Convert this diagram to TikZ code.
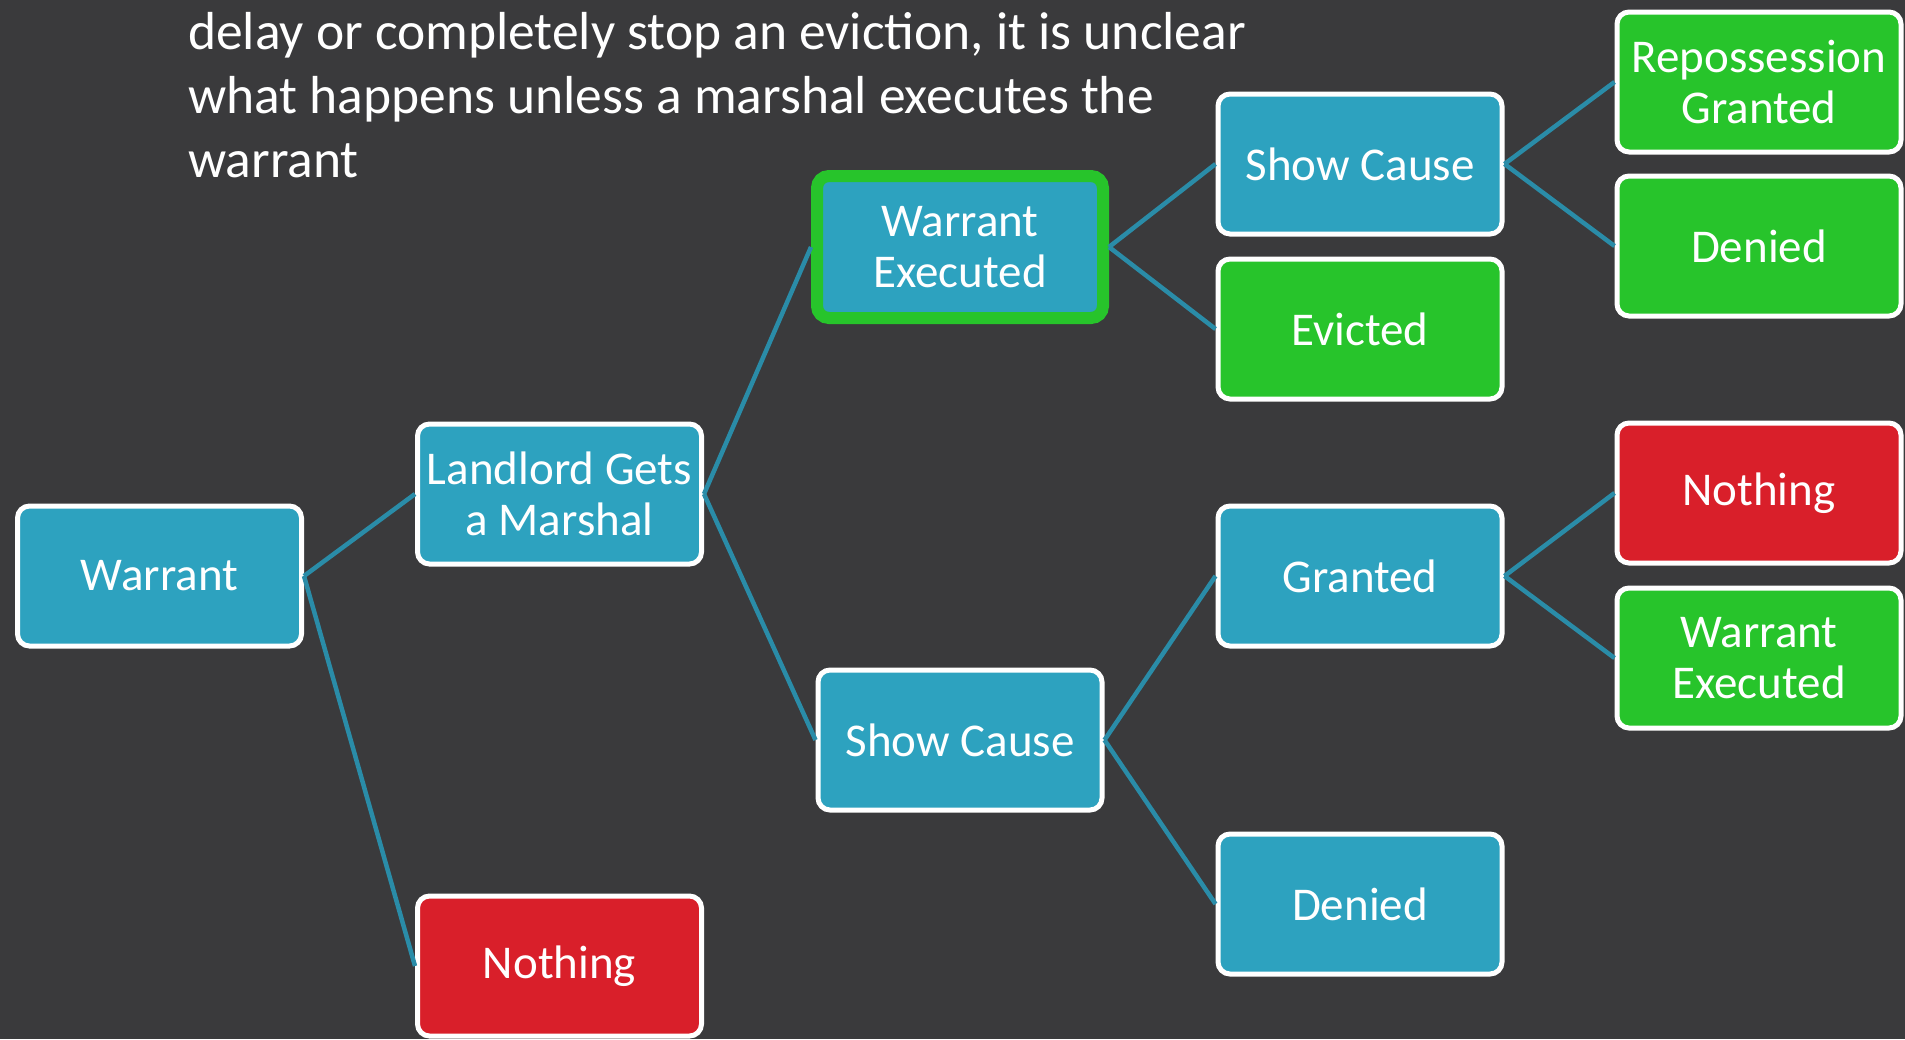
\documentclass[tikz,border=0pt]{standalone}
\usepackage{fontspec}
\setmainfont{Carlito}
\definecolor{bg}{HTML}{3A3A3C}
\definecolor{boxblue}{HTML}{2DA2BF}
\definecolor{linkblue}{HTML}{2A8CA8}
\definecolor{boxgreen}{HTML}{27C42B}
\definecolor{boxred}{HTML}{D91F2A}
\begin{document}
\begin{tikzpicture}[x=1pt,y=-1pt,
  box/.style={draw=white, line width=5pt, rounded corners=12pt, minimum width=284pt, minimum height=140pt,
    text=white, align=center, inner sep=0pt, font=\fontsize{47}{51}\selectfont},
  bluebox/.style={box, fill=boxblue},
  greenbox/.style={box, fill=boxgreen},
  redbox/.style={box, fill=boxred},
  hlbox/.style={box, fill=boxblue, draw=boxgreen, line width=12pt, minimum width=286pt, minimum height=142pt},
  link/.style={draw=linkblue, line width=4.5pt}]
\fill[bg] (0,0) rectangle (1905,1039);
\useasboundingbox (0,0) rectangle (1905,1039);
\node[anchor=north west, text=white, align=left, inner sep=0pt, font=\fontsize{53.5}{64}\selectfont] (intro) at (188,12)
  {delay or completely stop an eviction, it is unclear\\what happens unless a marshal executes the\\warrant};
\node[bluebox] (warrant) at (159.5,576) {Warrant};
\node[bluebox] (landlord) at (559.5,494) {Landlord Gets\\a Marshal};
\node[redbox] (nothingL) at (559.5,966) {Nothing};
\node[hlbox] (wexec) at (960,247) {Warrant\\Executed};
\node[bluebox] (scmid) at (960,740) {Show Cause};
\node[bluebox] (sctop) at (1360,164) {Show Cause};
\node[greenbox] (evicted) at (1360,329) {Evicted};
\node[bluebox] (granted) at (1360,576) {Granted};
\node[bluebox] (deniedB) at (1360,904) {Denied};
\node[greenbox] (repo) at (1759,82) {Repossession\\Granted};
\node[greenbox] (deniedG) at (1759,246) {Denied};
\node[redbox] (nothingR) at (1759,493) {Nothing};
\node[greenbox] (wexecR) at (1759,658) {Warrant\\Executed};
\draw[link] (warrant.east) -- (landlord.west);
\draw[link] (warrant.east) -- (nothingL.west);
\draw[link] (landlord.east) -- (wexec.west);
\draw[link] (landlord.east) -- (scmid.west);
\draw[link] (wexec.east) -- (sctop.west);
\draw[link] (wexec.east) -- (evicted.west);
\draw[link] (sctop.east) -- (repo.west);
\draw[link] (sctop.east) -- (deniedG.west);
\draw[link] (scmid.east) -- (granted.west);
\draw[link] (scmid.east) -- (deniedB.west);
\draw[link] (granted.east) -- (nothingR.west);
\draw[link] (granted.east) -- (wexecR.west);
\end{tikzpicture}
\end{document}
